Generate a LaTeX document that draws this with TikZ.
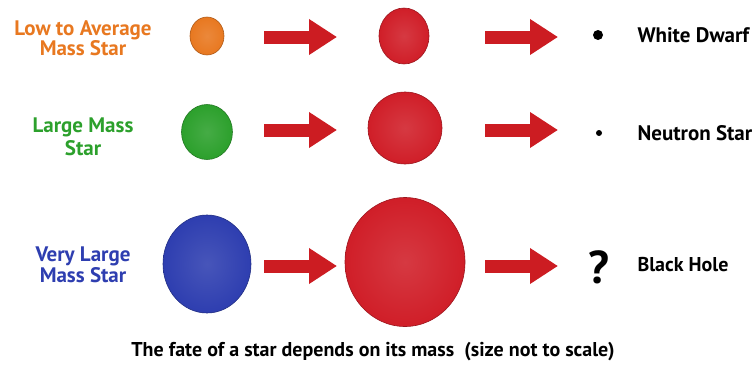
\documentclass[tikz,border=0pt]{standalone}
\usepackage{fontspec}
\setmainfont{PT Sans}
\usetikzlibrary{arrows.meta, shapes.geometric}

\definecolor{lowcol}{RGB}{232,120,32}
\definecolor{largecol}{RGB}{44,160,44}
\definecolor{vlargecol}{RGB}{46,62,176}
\definecolor{giantcol}{RGB}{208,30,40}
\definecolor{arrowred}{RGB}{204,28,34}

\tikzset{
  starball/.style={ellipse, inner sep=0pt, draw=#1!75!black, line width=0.6pt,
    inner color=#1!88!white, outer color=#1},
  masstext/.style={align=center, font=\fontsize{21}{17}\selectfont\bfseries},
  remnant/.style={anchor=west, font=\fontsize{21}{22}\selectfont\bfseries},
  fatearrow/.style={draw=arrowred, line width=13pt, -{Triangle[length=28pt, width=34pt]}},
}

\begin{document}
\begin{tikzpicture}[x=1pt, y=-1pt]
        \useasboundingbox (0,0) rectangle (752,372);

        % Labels
        \node[masstext, text=lowcol] (low) at (83,38) {Low to Average\\Mass Star};
        \node[masstext, text=largecol, font=\fontsize{21}{23}\selectfont\bfseries] (large) at (83,137) {Large Mass\\Star};
        \node[masstext, text=vlargecol] (vlarge) at (83,265) {Very Large\\Mass Star};

        % Stars
        \node[starball=lowcol, minimum width=34pt, minimum height=38pt] (s1) at (207,36) {};
        \node[starball=largecol, minimum width=51pt, minimum height=55pt] (s2) at (207,132) {};
        \node[starball=vlargecol, minimum width=88pt, minimum height=98pt] (s3) at (207,264) {};

        % Giants
        \node[starball=giantcol, minimum width=50pt, minimum height=56pt] (g1) at (404,36) {};
        \node[starball=giantcol, minimum width=74pt, minimum height=72pt] (g2) at (405,128) {};
        \node[starball=giantcol, minimum width=120pt, minimum height=129pt] (g3) at (405,262) {};

        % Remnants
        \node[circle, fill=black, inner sep=0pt, minimum size=10pt] (r1) at (598,35) {};
        \node[circle, fill=black, inner sep=0pt, minimum size=6pt] (r2) at (599,133) {};
        \node[font=\fontsize{46}{46}\selectfont\bfseries] (r3) at (599,267) {?};
        \node[remnant] (n1) at (634,35) {White Dwarf};
        \node[remnant] (n2) at (634,133) {Neutron Star};
        \node[remnant, font=\fontsize{20}{22}\selectfont\bfseries] (n3) at (634,265) {Black Hole};

        % Arrows
        \foreach \y/\i in {37/1, 130/2, 266/3} {
            \coordinate (a\i) at (264,\y);
            \coordinate (b\i) at (337,\y);
            \coordinate (c\i) at (485,\y);
            \coordinate (d\i) at (558,\y);
            \draw[fatearrow] (a\i) -- (b\i);
            \draw[fatearrow] (c\i) -- (d\i);
        }

        % Caption
        \node[font=\fontsize{20}{22}\selectfont\bfseries] (cap) at (373,352)
            {The fate of a star depends on its mass\ \ (size not to scale)};
    \end{tikzpicture}
\end{document}
